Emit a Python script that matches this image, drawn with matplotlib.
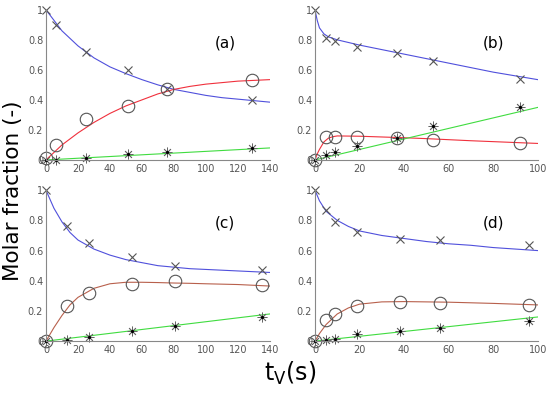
import numpy as np
import matplotlib
matplotlib.use("Agg")
import matplotlib.pyplot as plt

# ---------- data ----------
# panel (a)
a_t = [0, 6, 25, 51, 76, 129]
a_x = [1.0, 0.90, 0.72, 0.60, 0.47, 0.40]
a_o = [0.01, 0.10, 0.27, 0.36, 0.47, 0.53]
a_s = [0.0, 0.0, 0.01, 0.04, 0.05, 0.08]
a_ct = [0, 5, 10, 20, 30, 40, 50, 60, 70, 80, 90, 100, 110, 120, 130, 140]
a_cb = [1.0, 0.93, 0.86, 0.76, 0.68, 0.62, 0.575, 0.535, 0.50, 0.47, 0.45, 0.43, 0.415, 0.405, 0.395, 0.385]
a_cr = [0.0, 0.05, 0.10, 0.18, 0.25, 0.31, 0.36, 0.40, 0.44, 0.47, 0.49, 0.505, 0.515, 0.525, 0.53, 0.535]
a_gt = [0, 35, 70, 105, 140]
a_cg = [0.0, 0.02, 0.04, 0.06, 0.08]

# panel (b)
b_t = [0, 5, 9, 19, 37, 53, 92]
b_x = [1.0, 0.81, 0.79, 0.75, 0.71, 0.66, 0.54]
b_o = [0.0, 0.15, 0.155, 0.155, 0.145, 0.135, 0.11]
b_s = [0.0, 0.035, 0.05, 0.09, 0.145, 0.225, 0.35]
b_ct = [0, 1, 2, 4, 6, 8, 10, 20, 30, 40, 50, 60, 70, 80, 90, 100]
b_cb = [1.0, 0.93, 0.88, 0.84, 0.82, 0.81, 0.80, 0.765, 0.735, 0.705, 0.675, 0.645, 0.615, 0.585, 0.56, 0.535]
b_cr = [0.0, 0.04, 0.07, 0.12, 0.145, 0.155, 0.16, 0.158, 0.153, 0.148, 0.142, 0.135, 0.128, 0.122, 0.116, 0.11]
b_gt = [0, 20, 40, 60, 80, 100]
b_cg = [0.0, 0.07, 0.14, 0.21, 0.28, 0.35]

# panel (c)
c_t = [0, 13, 27, 54, 81, 135]
c_x = [1.0, 0.76, 0.65, 0.56, 0.50, 0.47]
c_o = [0.0, 0.23, 0.32, 0.38, 0.40, 0.37]
c_s = [0.0, 0.01, 0.03, 0.07, 0.10, 0.16]
c_ct = [0, 5, 10, 15, 20, 30, 40, 50, 60, 70, 80, 90, 100, 120, 140]
c_cb = [1.0, 0.88, 0.79, 0.72, 0.67, 0.61, 0.57, 0.54, 0.52, 0.50, 0.49, 0.48, 0.475, 0.465, 0.455]
c_cr = [0.0, 0.09, 0.17, 0.24, 0.29, 0.35, 0.38, 0.39, 0.39, 0.388, 0.385, 0.383, 0.38, 0.375, 0.365]
c_gt = [0, 35, 70, 105, 140]
c_cg = [0.0, 0.045, 0.09, 0.135, 0.18]

# panel (d)
d_t = [0, 5, 9, 19, 38, 56, 96]
d_x = [1.0, 0.87, 0.79, 0.72, 0.68, 0.67, 0.64]
d_o = [0.0, 0.14, 0.18, 0.235, 0.26, 0.255, 0.24]
d_s = [0.0, 0.005, 0.015, 0.045, 0.065, 0.085, 0.135]
d_ct = [0, 2, 5, 10, 15, 20, 30, 40, 50, 60, 70, 80, 90, 100]
d_cb = [1.0, 0.93, 0.86, 0.80, 0.76, 0.73, 0.70, 0.68, 0.66, 0.645, 0.635, 0.62, 0.61, 0.60]
d_cr = [0.0, 0.05, 0.11, 0.18, 0.22, 0.245, 0.26, 0.262, 0.26, 0.258, 0.254, 0.25, 0.245, 0.24]
d_gt = [0, 25, 50, 75, 100]
d_cg = [0.0, 0.04, 0.08, 0.12, 0.16]

panels = [
    ("(a)", 140, a_t, a_x, a_o, a_s, a_ct, a_cb, a_cr, a_gt, a_cg, "#f0303c"),
    ("(b)", 100, b_t, b_x, b_o, b_s, b_ct, b_cb, b_cr, b_gt, b_cg, "#f0303c"),
    ("(c)", 140, c_t, c_x, c_o, c_s, c_ct, c_cb, c_cr, c_gt, c_cg, "#b8604c"),
    ("(d)", 100, d_t, d_x, d_o, d_s, d_ct, d_cb, d_cr, d_gt, d_cg, "#b8604c"),
]
# axes rectangles in figure fraction
rects = [(0.0836, 0.593, 0.407, 0.382), (0.5727, 0.593, 0.405, 0.382),
         (0.0836, 0.132, 0.407, 0.384), (0.5727, 0.132, 0.405, 0.384)]

GRAY = "#555555"
BLUE = "#5050dc"
GREEN = "#40dc40"

fig = plt.figure(figsize=(5.5, 3.93), dpi=100)
for rect, (lab, xmax, t, xs, os_, ss, ct, cb, cr, gt, cg, rcol) in zip(rects, panels):
    ax = fig.add_axes(rect)
    ax.plot(ct, cb, color=BLUE, lw=0.8)
    ax.plot(ct, cr, color=rcol, lw=0.8)
    ax.plot(gt, cg, color=GREEN, lw=0.8)
    ax.plot(t, xs, ls="none", marker="x", ms=6, mew=0.8, color=GRAY, clip_on=False)
    ax.plot(t, os_, ls="none", marker="o", ms=9, mfc="none", mew=0.8, mec=GRAY, clip_on=False)
    ax.plot(t, ss, ls="none", marker=(8, 2, 0), ms=7, mew=0.6, color="#666666", clip_on=False)
    ax.plot(t, ss, ls="none", marker=".", ms=2.5, color="black", clip_on=False)
    ax.set_xlim(0, xmax)
    ax.set_ylim(0, 1)
    ax.set_xticks(np.arange(0, xmax + 1, 20))
    ax.set_yticks([0, 0.2, 0.4, 0.6, 0.8, 1])
    ax.set_yticklabels(["0", "0.2", "0.4", "0.6", "0.8", "1"])
    ax.spines[["top", "right"]].set_visible(False)
    for s in ("left", "bottom"):
        ax.spines[s].set_color("#888888")
        ax.spines[s].set_linewidth(0.8)
    ax.tick_params(labelsize=7, colors="#555555", length=0, pad=2)
    ax.tick_params(axis="x", pad=3)
    ax.text(0.8, 0.78, lab, transform=ax.transAxes, fontsize=11, ha="center", va="center")

fig.text(0.024, 0.515, "Molar fraction (-)", rotation=90, fontsize=15.5, ha="center", va="center")
fig.text(0.527, 0.05, r"t$_\mathregular{V}$(s)", fontsize=17, ha="center", va="center")

fig.savefig("out.png", dpi=100)
